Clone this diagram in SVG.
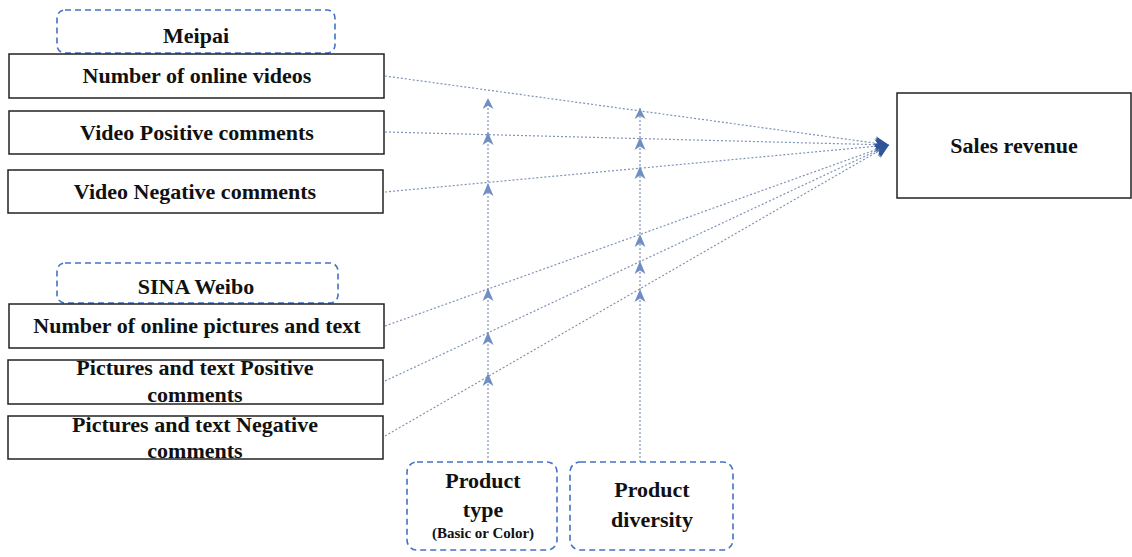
<svg xmlns="http://www.w3.org/2000/svg" width="1132" height="557" viewBox="0 0 1132 557">
<style>
.box{fill:#fff;stroke:#222;stroke-width:1.5}
.grp{fill:#fff;stroke:#4472C4;stroke-width:1.6;stroke-dasharray:6 4}
.t{font-family:"Liberation Serif","Times New Roman",serif;font-weight:bold;font-size:22px;fill:#111;text-anchor:middle}
.s{font-size:15px}
.c{fill:none;stroke:#7f93b8;stroke-width:1.2;stroke-dasharray:2 2}
</style>
<defs>
<marker id="big2" viewBox="0 0 10 10" refX="10" refY="5" markerWidth="16" markerHeight="14" markerUnits="userSpaceOnUse" orient="auto">
<path d="M0,0 L10,5 L0,10 L3,5 z" fill="#2f5597"/>
</marker>
<marker id="sm" viewBox="0 0 10 10" refX="10" refY="5" markerWidth="13" markerHeight="11" markerUnits="userSpaceOnUse" orient="auto">
<path d="M0,0 L10,5 L0,10 L3,5 z" fill="#6f8fc4"/>
</marker>
</defs>

<g id="connectors">
<line class="c" x1="385" y1="76" x2="889" y2="145" marker-end="url(#big2)"/>
<line class="c" x1="385" y1="132" x2="889" y2="145" marker-end="url(#big2)"/>
<line class="c" x1="385" y1="192" x2="889" y2="145" marker-end="url(#big2)"/>
<line class="c" x1="385" y1="326" x2="889" y2="145" marker-end="url(#big2)"/>
<line class="c" x1="385" y1="381" x2="889" y2="145" marker-end="url(#big2)"/>
<line class="c" x1="385" y1="436" x2="889" y2="145" marker-end="url(#big2)"/>
<line class="c" x1="488" y1="462" x2="488" y2="98" marker-end="url(#sm)"/>
<line class="c" x1="640" y1="462" x2="640" y2="108" marker-end="url(#sm)"/>
<g fill="#6f8fc4">
<path d="M488,132 l-5.5,13 l5.5,-3.5 l5.5,3.5 z"/>
<path d="M488,183 l-5.5,13 l5.5,-3.5 l5.5,3.5 z"/>
<path d="M488,288 l-5.5,13 l5.5,-3.5 l5.5,3.5 z"/>
<path d="M488,332 l-5.5,13 l5.5,-3.5 l5.5,3.5 z"/>
<path d="M488,373 l-5.5,13 l5.5,-3.5 l5.5,3.5 z"/>
<path d="M640,137 l-5.5,13 l5.5,-3.5 l5.5,3.5 z"/>
<path d="M640,166 l-5.5,13 l5.5,-3.5 l5.5,3.5 z"/>
<path d="M640,234 l-5.5,13 l5.5,-3.5 l5.5,3.5 z"/>
<path d="M640,261 l-5.5,13 l5.5,-3.5 l5.5,3.5 z"/>
<path d="M640,289 l-5.5,13 l5.5,-3.5 l5.5,3.5 z"/>
</g>
</g>

<g id="meipai"><rect class="grp" x="57" y="10" width="278" height="43" rx="8"/><text class="t" x="196" y="43">Meipai</text></g>
<g id="n1"><rect class="box" x="9" y="54" width="375" height="44"/><text class="t" x="197" y="83">Number of online videos</text></g>
<g id="n2"><rect class="box" x="9" y="111" width="375" height="43"/><text class="t" x="197" y="140">Video Positive comments</text></g>
<g id="n3"><rect class="box" x="8" y="170" width="375" height="43"/><text class="t" x="195" y="199">Video Negative comments</text></g>

<g id="sina"><rect class="grp" x="57" y="263" width="281" height="40" rx="8"/><text class="t" x="196" y="294">SINA Weibo</text></g>
<g id="n4"><rect class="box" x="9" y="304" width="375" height="44"/><text class="t" x="197" y="333">Number of online pictures and text</text></g>
<g id="n5"><rect class="box" x="8" y="360" width="375" height="44"/><text class="t" x="195" y="375">Pictures and text Positive</text><text class="t" x="195" y="402">comments</text></g>
<g id="n6"><rect class="box" x="8" y="416" width="375" height="43"/><text class="t" x="195" y="432">Pictures and text Negative</text><text class="t" x="195" y="458">comments</text></g>

<g id="sales"><rect class="box" x="897" y="93" width="234" height="105"/><text class="t" x="1014" y="153">Sales revenue</text></g>

<g id="ptype"><rect class="grp" x="407" y="462" width="150" height="88" rx="10"/><text class="t" x="483" y="488">Product</text><text class="t" x="483" y="517">type</text><text class="t s" x="483" y="538">(Basic or Color)</text></g>
<g id="pdiv"><rect class="grp" x="570" y="462" width="163" height="88" rx="10"/><text class="t" x="652" y="497">Product</text><text class="t" x="652" y="527">diversity</text></g>
</svg>
